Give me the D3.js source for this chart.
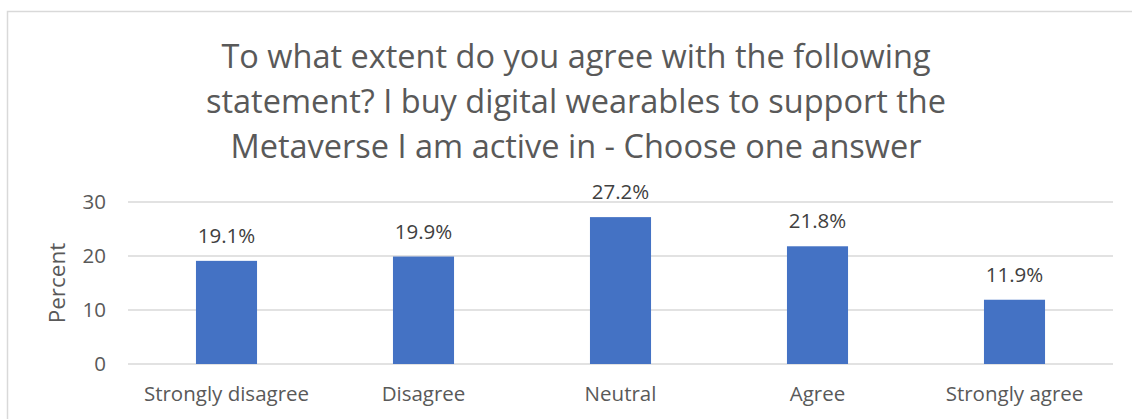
<!DOCTYPE html>
<html>
<head>
<meta charset="utf-8">
<script src="https://cdn.jsdelivr.net/npm/d3@7"></script>
<style>
  html, body { margin: 0; padding: 0; background: #fff; }
  svg { display: block; font-family: "Open Sans", "Noto Sans", sans-serif; }
</style>
</head>
<body>
<svg id="chart" width="1132" height="419"></svg>
<script>
// Survey answers and their share of respondents (%)
const categories = ["Strongly disagree", "Disagree", "Neutral", "Agree", "Strongly agree"];
const percentValues = [19.1, 19.9, 27.2, 21.8, 11.9];
const yTicks = [0, 10, 20, 30];
const titleLines = [
  "To what extent do you agree with the following",
  "statement? I buy digital wearables to support the",
  "Metaverse I am active in - Choose one answer"
];

const svg = d3.select("#chart");
const W = 1132, H = 419;
const margin = { left: 128, right: 19, top: 202, bottom: 55 };

// chart frame
svg.append("rect")
  .attr("x", 7.5).attr("y", 11.5)
  .attr("width", 1200).attr("height", 500)
  .attr("fill", "none").attr("stroke", "#d9d9d9").attr("stroke-width", 1.5);

const x = d3.scaleBand()
  .domain(categories)
  .range([margin.left, W - margin.right])
  .paddingInner(0.69).paddingOuter(0.345);

const y = d3.scaleLinear()
  .domain([0, 30])
  .range([H - margin.bottom, margin.top]);

// title
svg.append("text")
  .attr("x", 576).attr("y", 68)
  .attr("text-anchor", "middle")
  .attr("fill", "#595959")
  .attr("font-size", 32.5)
  .selectAll("tspan")
  .data(titleLines)
  .join("tspan")
  .attr("x", 576)
  .attr("dy", (d, i) => i === 0 ? 0 : 45)
  .text(d => d);

// gridlines
svg.append("g")
  .selectAll("line")
  .data(yTicks)
  .join("line")
  .attr("x1", margin.left).attr("x2", W - margin.right)
  .attr("y1", d => y(d)).attr("y2", d => y(d))
  .attr("stroke", "#d9d9d9").attr("stroke-width", 1.5);

// y axis labels
const yAxis = d3.axisLeft(y).tickValues(yTicks).tickSize(0).tickPadding(22);
const gy = svg.append("g")
  .attr("transform", `translate(${margin.left},0)`)
  .call(yAxis);
gy.select(".domain").remove();
gy.selectAll("text")
  .attr("fill", "#595959")
  .attr("font-size", 20.5)
  .attr("font-family", "\"Open Sans\", sans-serif");

// y axis title
svg.append("text")
  .attr("transform", `translate(65,${(y(0) + y(30)) / 2}) rotate(-90)`)
  .attr("text-anchor", "middle")
  .attr("fill", "#595959")
  .attr("font-size", 22.5)
  .text("Percent");

// x axis labels
const xAxis = d3.axisBottom(x).tickSize(0).tickPadding(22);
const gx = svg.append("g")
  .attr("transform", `translate(0,${y(0)})`)
  .call(xAxis);
gx.select(".domain").remove();
gx.selectAll("text")
  .attr("fill", "#595959")
  .attr("font-size", 20.5)
  .attr("font-family", "\"Open Sans\", sans-serif");

// bars
svg.append("g")
  .selectAll("rect")
  .data(percentValues)
  .join("rect")
  .attr("x", (d, i) => x(categories[i]))
  .attr("width", x.bandwidth())
  .attr("y", d => y(d))
  .attr("height", d => y(0) - y(d))
  .attr("fill", "#4472c4");

// value labels
svg.append("g")
  .selectAll("text")
  .data(percentValues)
  .join("text")
  .attr("x", (d, i) => x(categories[i]) + x.bandwidth() / 2)
  .attr("y", d => y(d) - 18)
  .attr("text-anchor", "middle")
  .attr("fill", "#404040")
  .attr("font-size", 20.5)
  .text(d => d.toFixed(1) + "%");
</script>
</body>
</html>
